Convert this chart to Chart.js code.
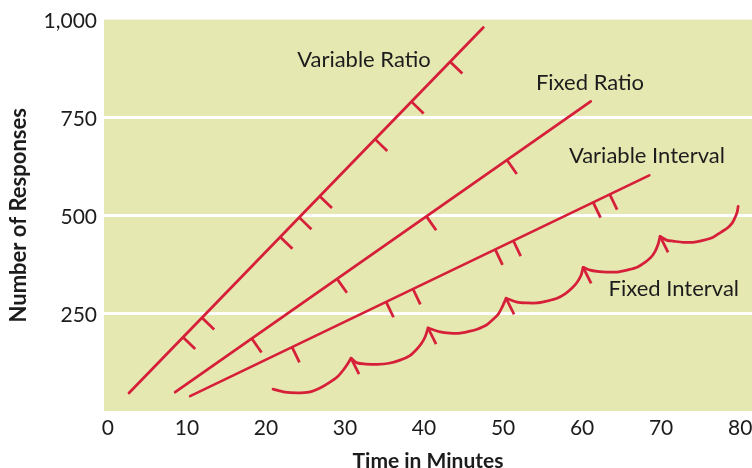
<!DOCTYPE html>
<html>
<head>
<meta charset="utf-8">
<script src="https://cdn.jsdelivr.net/npm/chart.js@4.4.1/dist/chart.umd.min.js"></script>
<style>
  body { margin: 0; background: #fff; }
  #wrap { width: 752px; height: 468px; }
</style>
</head>
<body>
<div id="wrap"><canvas id="chart" width="752" height="468"></canvas></div>
<script>
// axis ticks
const timeTicks = [0, 10, 20, 30, 40, 50, 60, 70, 80];
const responseTicks = [250, 500, 750, 1000];

// straight schedules: start and end point (minutes, responses)
const vrTime = [2.66, 47.5];
const vrResp = [46, 980];
const frTime = [8.5, 61.1];
const frResp = [48, 791];
const viTime = [10.4, 68.5];
const viResp = [38, 602];

// where the little reinforcement marks sit (minutes)
const vrMarks = [9.5, 11.9, 21.8, 24.2, 26.8, 33.8, 38.4, 43.3];
const frMarks = [18.2, 29.0, 40.3, 50.5];
const viMarks = [23.3, 35.2, 38.6, 49.0, 51.3, 61.4, 63.5];

// fixed interval scallops
const fi1Time = [20.89, 22.41, 23.92, 25.44, 26.84, 28.10, 29.11, 29.87, 30.38, 30.76];
const fi1Resp = [56, 48, 46, 48, 59, 74, 89, 107, 122, 135];
const fi2Time = [30.76, 31.52, 32.66, 34.05, 35.57, 36.96, 38.10, 38.99, 39.62, 40.13, 40.51];
const fi2Resp = [135, 123, 120, 119, 122, 130, 140, 156, 171, 189, 212];
const fi3Time = [40.51, 42.03, 43.29, 44.56, 45.82, 46.71, 47.85, 48.61, 49.37, 49.87, 50.38];
const fi3Resp = [212, 202, 199, 199, 204, 209, 219, 232, 247, 265, 288];
const fi4Time = [50.38, 51.77, 53.04, 54.30, 55.57, 56.84, 57.85, 58.73, 59.37, 59.87, 60.13];
const fi4Resp = [288, 278, 276, 276, 281, 288, 299, 314, 329, 347, 367];
const fi5Time = [60.13, 61.01, 61.90, 63.16, 64.43, 65.70, 66.96, 67.97, 68.73, 69.24, 69.62, 69.87];
const fi5Resp = [367, 360, 357, 355, 355, 360, 367, 380, 393, 408, 426, 446];
const fi6Time = [69.87, 70.76, 71.52, 72.78, 74.05, 75.32, 76.58, 77.59, 78.35, 78.99, 79.37, 79.62, 79.75];
const fi6Resp = [446, 436, 434, 431, 431, 436, 444, 457, 467, 480, 495, 508, 523];

const seriesNames = ['Variable Ratio', 'Fixed Ratio', 'Variable Interval', 'Fixed Interval'];

const red = '#d6203a';
const plotBg = '#e6e8b2';
const textColor = '#1c1c1c';

function pts(xs, ys) {
  return xs.map((v, i) => ({x: v, y: ys[i]}));
}

function lineSet(xs, ys, tension) {
  return {
    data: pts(xs, ys),
    showLine: true,
    borderColor: red,
    borderWidth: 2.75,
    pointRadius: 0,
    tension: tension,
    borderCapStyle: 'round',
    borderJoinStyle: 'round',
    fill: false
  };
}

const scallops = [
  [fi1Time, fi1Resp], [fi2Time, fi2Resp], [fi3Time, fi3Resp],
  [fi4Time, fi4Resp], [fi5Time, fi5Resp], [fi6Time, fi6Resp]
];

const datasets = [
  lineSet(vrTime, vrResp, 0),
  lineSet(frTime, frResp, 0),
  lineSet(viTime, viResp, 0)
].concat(scallops.map(s => lineSet(s[0], s[1], 0.3)));

const marks = [
  {ds: 0, at: vrMarks},
  {ds: 1, at: frMarks},
  {ds: 2, at: viMarks}
];

// label placement (minutes, responses)
const labelSpots = [
  {text: seriesNames[0], x: 32.4, y: 898},
  {text: seriesNames[1], x: 61.0, y: 837},
  {text: seriesNames[2], x: 68.2, y: 651},
  {text: seriesNames[3], x: 71.6, y: 312}
];

const decor = {
  id: 'decor',
  beforeDraw(chart) {
    const {ctx, chartArea: a} = chart;
    ctx.save();
    ctx.fillStyle = plotBg;
    ctx.fillRect(a.left, a.top, a.right - a.left, a.bottom - a.top);
    ctx.restore();
  },
  afterDatasetsDraw(chart) {
    const {ctx, scales} = chart;
    ctx.save();
    ctx.strokeStyle = red;
    ctx.lineWidth = 2.75;

    // reinforcement marks, perpendicular to each straight line
    marks.forEach(m => {
      const el = chart.getDatasetMeta(m.ds).data;
      const p0 = el[0], p1 = el[el.length - 1];
      const dx = p1.x - p0.x, dy = p1.y - p0.y;
      const len = Math.hypot(dx, dy);
      const nx = -dy / len, ny = dx / len;
      m.at.forEach(t => {
        const px = scales.x.getPixelForValue(t);
        const py = p0.y + dy * (px - p0.x) / dx;
        ctx.beginPath();
        ctx.moveTo(px, py);
        ctx.lineTo(px + nx * 17, py + ny * 17);
        ctx.stroke();
      });
    });

    // arrow barbs at the scallop tips
    for (let i = 3; i < 3 + scallops.length - 1; i++) {
      const el = chart.getDatasetMeta(i).data;
      const tip = el[el.length - 1];
      ctx.beginPath();
      ctx.moveTo(tip.x, tip.y);
      ctx.lineTo(tip.x + 8, tip.y + 16);
      ctx.stroke();
    }

    ctx.fillStyle = textColor;
    ctx.font = '22px Lato';
    ctx.textAlign = 'center';
    ctx.textBaseline = 'middle';
    labelSpots.forEach(l => {
      ctx.fillText(l.text, scales.x.getPixelForValue(l.x), scales.y.getPixelForValue(l.y));
    });
    ctx.restore();
  }
};

Chart.defaults.font.family = 'Lato';
Chart.defaults.color = textColor;

new Chart(document.getElementById('chart'), {
  type: 'scatter',
  data: {datasets: datasets},
  options: {
    responsive: false,
    animation: false,
    layout: {padding: {top: 19, right: 0, left: 0, bottom: 0}},
    plugins: {legend: {display: false}, tooltip: {enabled: false}},
    scales: {
      x: {
        type: 'linear',
        min: -0.5,
        max: 81.5,
        afterBuildTicks: s => { s.ticks = timeTicks.map(v => ({value: v})); },
        afterFit: s => { s.height = 57; },
        grid: {display: false},
        border: {display: false},
        ticks: {font: {size: 21}, padding: -3, maxRotation: 0, color: textColor},
        title: {
          display: true,
          text: 'Time in Minutes',
          font: {size: 21, weight: 'bold', lineHeight: 1},
          padding: {top: 0, bottom: -4},
          color: textColor
        }
      },
      y: {
        min: 0,
        max: 1000,
        afterBuildTicks: s => { s.ticks = responseTicks.map(v => ({value: v})); },
        afterFit: s => { s.width = 104; },
        grid: {
          color: c => (c.tick && c.tick.value === 1000) ? 'rgba(0,0,0,0)' : '#ffffff',
          lineWidth: 3,
          drawTicks: false
        },
        border: {display: false},
        ticks: {
          font: {size: 21},
          padding: 7,
          labelOffset: 2,
          color: textColor,
          callback: v => v.toLocaleString('en-US')
        },
        title: {
          display: true,
          text: 'Number of Responses',
          font: {size: 22, weight: 'bold', lineHeight: 1},
          padding: {top: 8, bottom: 0},
          color: textColor
        }
      }
    }
  },
  plugins: [decor]
});
</script>
</body>
</html>
